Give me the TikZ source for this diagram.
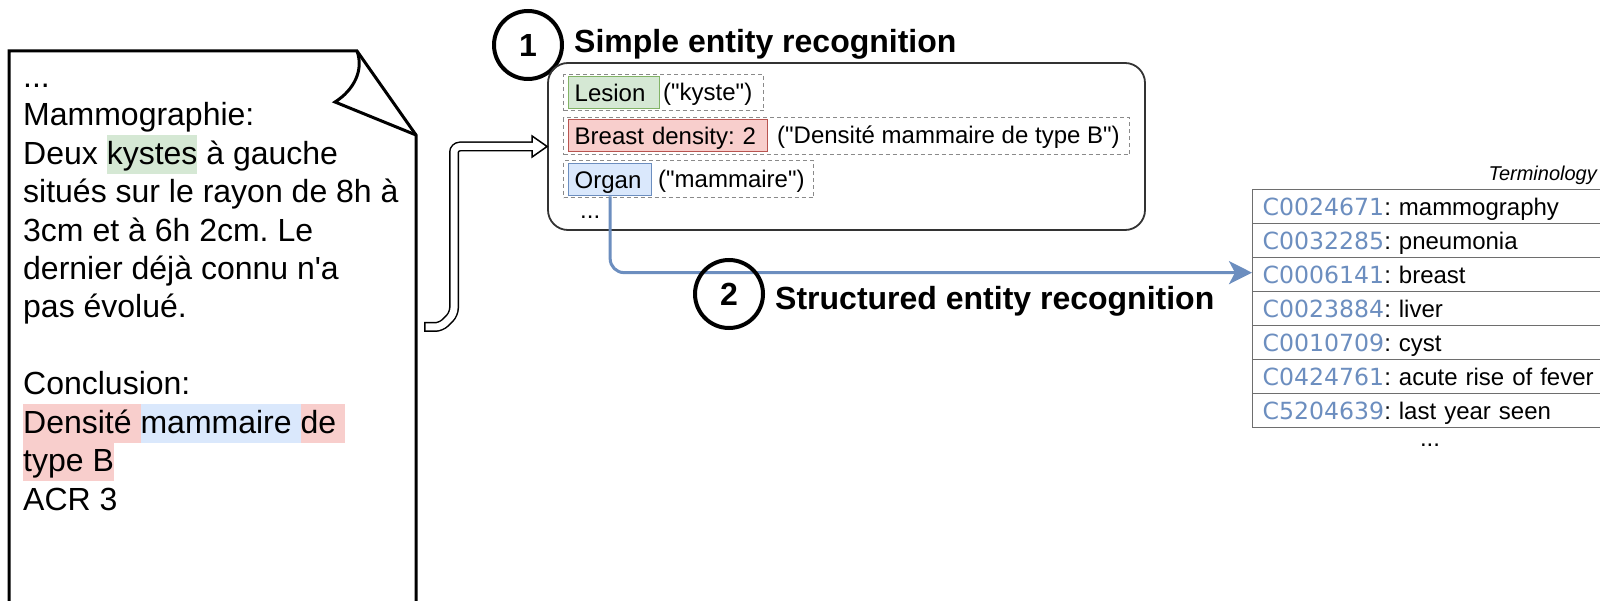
\documentclass[tikz,border=0pt]{standalone}
\usepackage{fontspec}
\setmainfont{Liberation Sans}[Ligatures=TeXOff]
\newfontfamily\codefont{DejaVu Sans}[Ligatures=TeXOff]
\usetikzlibrary{arrows.meta,calc}

\definecolor{hlgreen}{HTML}{D5E8D4}
\definecolor{bdgreen}{HTML}{82B366}
\definecolor{hlred}{HTML}{F8CECC}
\definecolor{bdred}{HTML}{B85450}
\definecolor{hlblue}{HTML}{DAE8FC}
\definecolor{bdblue}{HTML}{6C8EBF}
\definecolor{codeblue}{HTML}{6C8EBF}
\definecolor{dashgray}{HTML}{8A8A8A}
\definecolor{tblgray}{HTML}{6E6E6E}
\definecolor{boxgray}{HTML}{333333}

% highlighted word spanning the full line height
\newcommand\hlword[2]{{\setlength{\fboxsep}{0pt}\colorbox{#1}{\rule[-9.4pt]{0pt}{38.4pt}#2}}}
% concept identifier in the terminology table
\newcommand\cui[1]{{\codefont\fontsize{23.6}{28}\selectfont\color{codeblue}#1}}

\tikzset{
  every node/.append style={execute at begin node=\frenchspacing},
  docline/.style={anchor=base west, inner sep=0pt, font=\fontsize{32}{38.4}\selectfont},
  rowbox/.style={anchor=north west, draw=dashgray, dash pattern=on 4pt off 3pt, line width=1.3pt, inner sep=0pt},
  entlabel/.style={anchor=north west, line width=1.3pt, inner xsep=6pt, inner ysep=0pt,
    text height=24.6pt, text depth=7.4pt, align=left, font=\fontsize{24}{28}\selectfont},
  valtext/.style={anchor=base west, inner sep=0pt, font=\fontsize{24}{28}\selectfont},
  trow/.style={anchor=north west, draw=tblgray, line width=1.3pt, minimum height=34pt,
    inner xsep=10pt, inner ysep=0pt, text width=400pt, align=left,
    text height=26pt, text depth=8pt, font=\fontsize{24}{28}\selectfont},
  stepnum/.style={circle, draw, line width=4pt, minimum size=68pt, inner sep=0pt,
    font=\fontsize{32}{38}\selectfont\bfseries},
  steptitle/.style={anchor=base west, inner sep=0pt, font=\fontsize{32}{38}\selectfont\bfseries},
  bluearrow/.style={draw=bdblue, line width=3pt, rounded corners=14pt,
    -{Stealth[length=23pt, width=23pt, inset=6pt]}},
}

\begin{document}
\begin{tikzpicture}[x=1pt, y=-1pt]
\useasboundingbox (0,0) rectangle (1600,601);
\clip (0,0) rectangle (1600,601);

% ---- report page with folded corner ----
\draw[line width=3pt, line join=miter]
  (9,620) -- (9,51) -- (357,51) -- (416,135) -- (416,620);
\draw[line width=3pt, line join=miter]
  (357,51) .. controls (364,70) and (354,90) .. (335,102) -- (416,135);

\node[docline] (d1)  at (23,87.6)  {...};
\node[docline] (d2)  at (23,126)   {Mammographie:};
\node[docline] (d3)  at (23,164.4) {Deux \hlword{hlgreen}{kystes} à gauche};
\node[docline] (d4)  at (23,202.8) {situés sur le rayon de 8h à};
\node[docline] (d5)  at (23,241.2) {3cm et à 6h 2cm. Le};
\node[docline] (d6)  at (23,279.6) {dernier déjà connu n'a};
\node[docline] (d7)  at (23,318)   {pas évolué.};
\node[docline] (d8)  at (23,394.8) {Conclusion:};
\node[docline] (d9)  at (23,433.2) {\hlword{hlred}{Densité }\hlword{hlblue}{mammaire }\hlword{hlred}{de }};
\node[docline] (d10) at (23,471.6) {\hlword{hlred}{type B}};
\node[docline] (d11) at (23,510)   {ACR 3};

% ---- step 1: simple entity recognition ----
\node[stepnum] (n1) at (528,45) {1};
\node[steptitle] (title1) at (574,53) {Simple entity recognition};

\node[draw=boxgray, line width=1.8pt, rounded corners=20pt, minimum width=597pt,
  minimum height=167pt, inner sep=0pt] (ser) at (846.5,146.5) {};

\node[rowbox, minimum width=200pt, minimum height=36pt] (r1) at (563,74) {};
\node[rowbox, minimum width=566pt, minimum height=37pt] (r2) at (563,117) {};
\node[rowbox, minimum width=250pt, minimum height=37pt] (r3) at (563,160) {};

\node[entlabel, fill=hlgreen, draw=bdgreen, text width=79pt] (lesion)  at (568,76)  {Lesion};
\node[entlabel, fill=hlred,   draw=bdred,   text width=187pt] (density) at (568,119) {Breast density: 2};
\node[entlabel, fill=hlblue,  draw=bdblue,  text width=71pt] (organ)   at (568,163) {Organ};

\node[valtext] (v1) at (663,100.6) {("kyste")};
\node[valtext] (v2) at (777,143.6) {("Densité mammaire de type B")};
\node[valtext] (v3) at (658,187.6) {("mammaire")};
\node[valtext] (more1) at (580,219) {...};

% ---- hollow arrow from the report to the entity box ----
\coordinate (tail) at (424,327);
\coordinate (headbase) at ($(ser.west)+(-15,0)$);
\draw[line width=10pt, line join=miter, rounded corners=6pt]
  (tail) -- (441,327) -- (454,314) |- ($(headbase)+(1,0)$);
\draw[line width=1.5pt, fill=white, line join=miter]
  ($(headbase)+(0,10.5)$) -- (ser.west) -- ($(headbase)+(0,-10.5)$) -- cycle;
\draw[line width=7pt, white, line join=miter, rounded corners=6pt]
  ($(tail)+(1.5,0)$) -- (441,327) -- (454,314) |- ($(headbase)+(1.5,0)$);

% ---- terminology table ----
\node[anchor=base east, inner sep=0pt, font=\fontsize{20}{24}\selectfont\itshape] (termtitle)
  at (1597,181) {Terminology};
\node[trow] (t1) at (1252,189) {\cui{C0024671}: mammography};
\node[trow] (t2) at (1252,223) {\cui{C0032285}: pneumonia};
\node[trow] (t3) at (1252,257) {\cui{C0006141}: breast};
\node[trow] (t4) at (1252,291) {\cui{C0023884}: liver};
\node[trow] (t5) at (1252,325) {\cui{C0010709}: cyst};
\node[trow] (t6) at (1252,359) {\cui{C0424761}: acute rise of fever};
\node[trow] (t7) at (1252,393) {\cui{C5204639}: last year seen};
\node[anchor=base, inner sep=0pt, font=\fontsize{24}{28}\selectfont] (more2) at (1430,446) {...};

% ---- step 2: structured entity recognition ----
\draw[bluearrow] (organ.south) |- ($(t3.west)+(0,-2)$);
\node[stepnum] (n2) at (729,294) {2};
\node[steptitle] (title2) at (775,310) {Structured entity recognition};
\end{tikzpicture}
\end{document}
